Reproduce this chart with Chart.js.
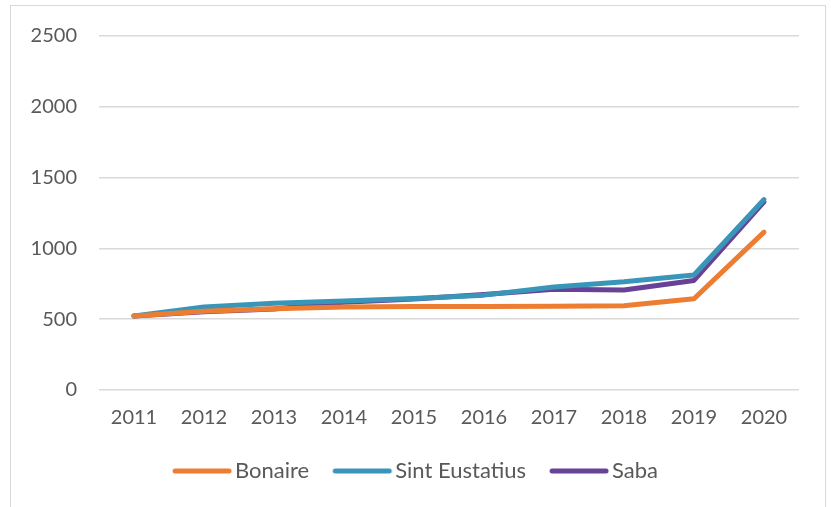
<!DOCTYPE html>
<html>
<head>
<meta charset="utf-8">
<script src="https://cdn.jsdelivr.net/npm/chart.js@4"></script>
<style>
  html, body { margin: 0; padding: 0; background: #fff; }
  #frame {
    position: absolute; left: 10px; top: 5px; width: 816px; height: 510px;
    border: 1px solid #d9d9d9; box-sizing: border-box;
  }
  #wrap { position: absolute; left: 0; top: 0; width: 831px; height: 507px; }
</style>
</head>
<body>
<div id="frame"></div>
<div id="wrap"><canvas id="myChart" width="831" height="507"></canvas></div>
<script>
'use strict'
const years = ["2011", "2012", "2013", "2014", "2015", "2016", "2017", "2018", "2019", "2020"]
const bonaire = [522, 556, 574, 586, 590, 590, 592, 595, 644, 1115]
const sintEustatius = [522, 586, 612, 628, 646, 670, 728, 764, 812, 1345]
const saba = [522, 552, 572, 620, 642, 674, 712, 706, 774, 1328]
const yTicks = [0, 500, 1000, 1500, 2000, 2500]

// legend marker: a line that reaches close to the label text
function legendLine(color) {
    const c = document.createElement("canvas")
    c.width = 71
    c.height = 8
    const ctx = c.getContext("2d")
    ctx.strokeStyle = color
    ctx.lineWidth = 5
    ctx.lineCap = "round"
    ctx.beginPath()
    ctx.moveTo(13, 4)
    ctx.lineTo(67, 4)
    ctx.stroke()
    return c
}

function series(label, values, color) {
    return {
        label: label,
        data: values,
        borderColor: color,
        backgroundColor: color,
        borderWidth: 5,
        pointRadius: 0,
        pointStyle: legendLine(color),
        tension: 0,
        borderCapStyle: 'round',
        borderJoinStyle: 'round'
    }
}

const data = {
    labels: years,
    datasets: [
        series("Bonaire", bonaire, 'rgb(237,125,49)'),
        series("Sint Eustatius", sintEustatius, 'rgb(58,150,185)'),
        series("Saba", saba, 'rgb(104,66,150)')
    ]
}

const config = {
    type: 'line',
    data: data,
    options: {
        responsive: false,
        animation: false,
        layout: { padding: { left: 30, right: 32, top: 36, bottom: 15 } },
        plugins: {
            legend: {
                position: 'bottom',
                labels: {
                    font: { family: 'Lato', size: 22 },
                    color: '#595959',
                    usePointStyle: true,
                    pointStyleWidth: 53,
                    boxHeight: 20,
                    padding: 22
                }
            },
            tooltip: { enabled: false }
        },
        scales: {
            x: {
                offset: true,
                grid: { display: false },
                border: { display: false },
                ticks: { font: { family: 'Lato', size: 20 }, color: '#595959', padding: 8 }
            },
            y: {
                min: 0,
                max: 2500,
                afterBuildTicks: function (axis) { axis.ticks = yTicks.map(v => ({ value: v })) },
                afterFit: function (axis) { axis.width = 69 },
                grid: { color: '#d9d9d9', lineWidth: 1.5, drawTicks: false },
                border: { display: false },
                ticks: {
                    font: { family: 'Lato', size: 20 }, color: '#595959', padding: 22,
                    callback: function (v) { return String(v) }
                }
            }
        }
    }
}

const myChart = new Chart(document.getElementById('myChart'), config)
</script>
</body>
</html>
